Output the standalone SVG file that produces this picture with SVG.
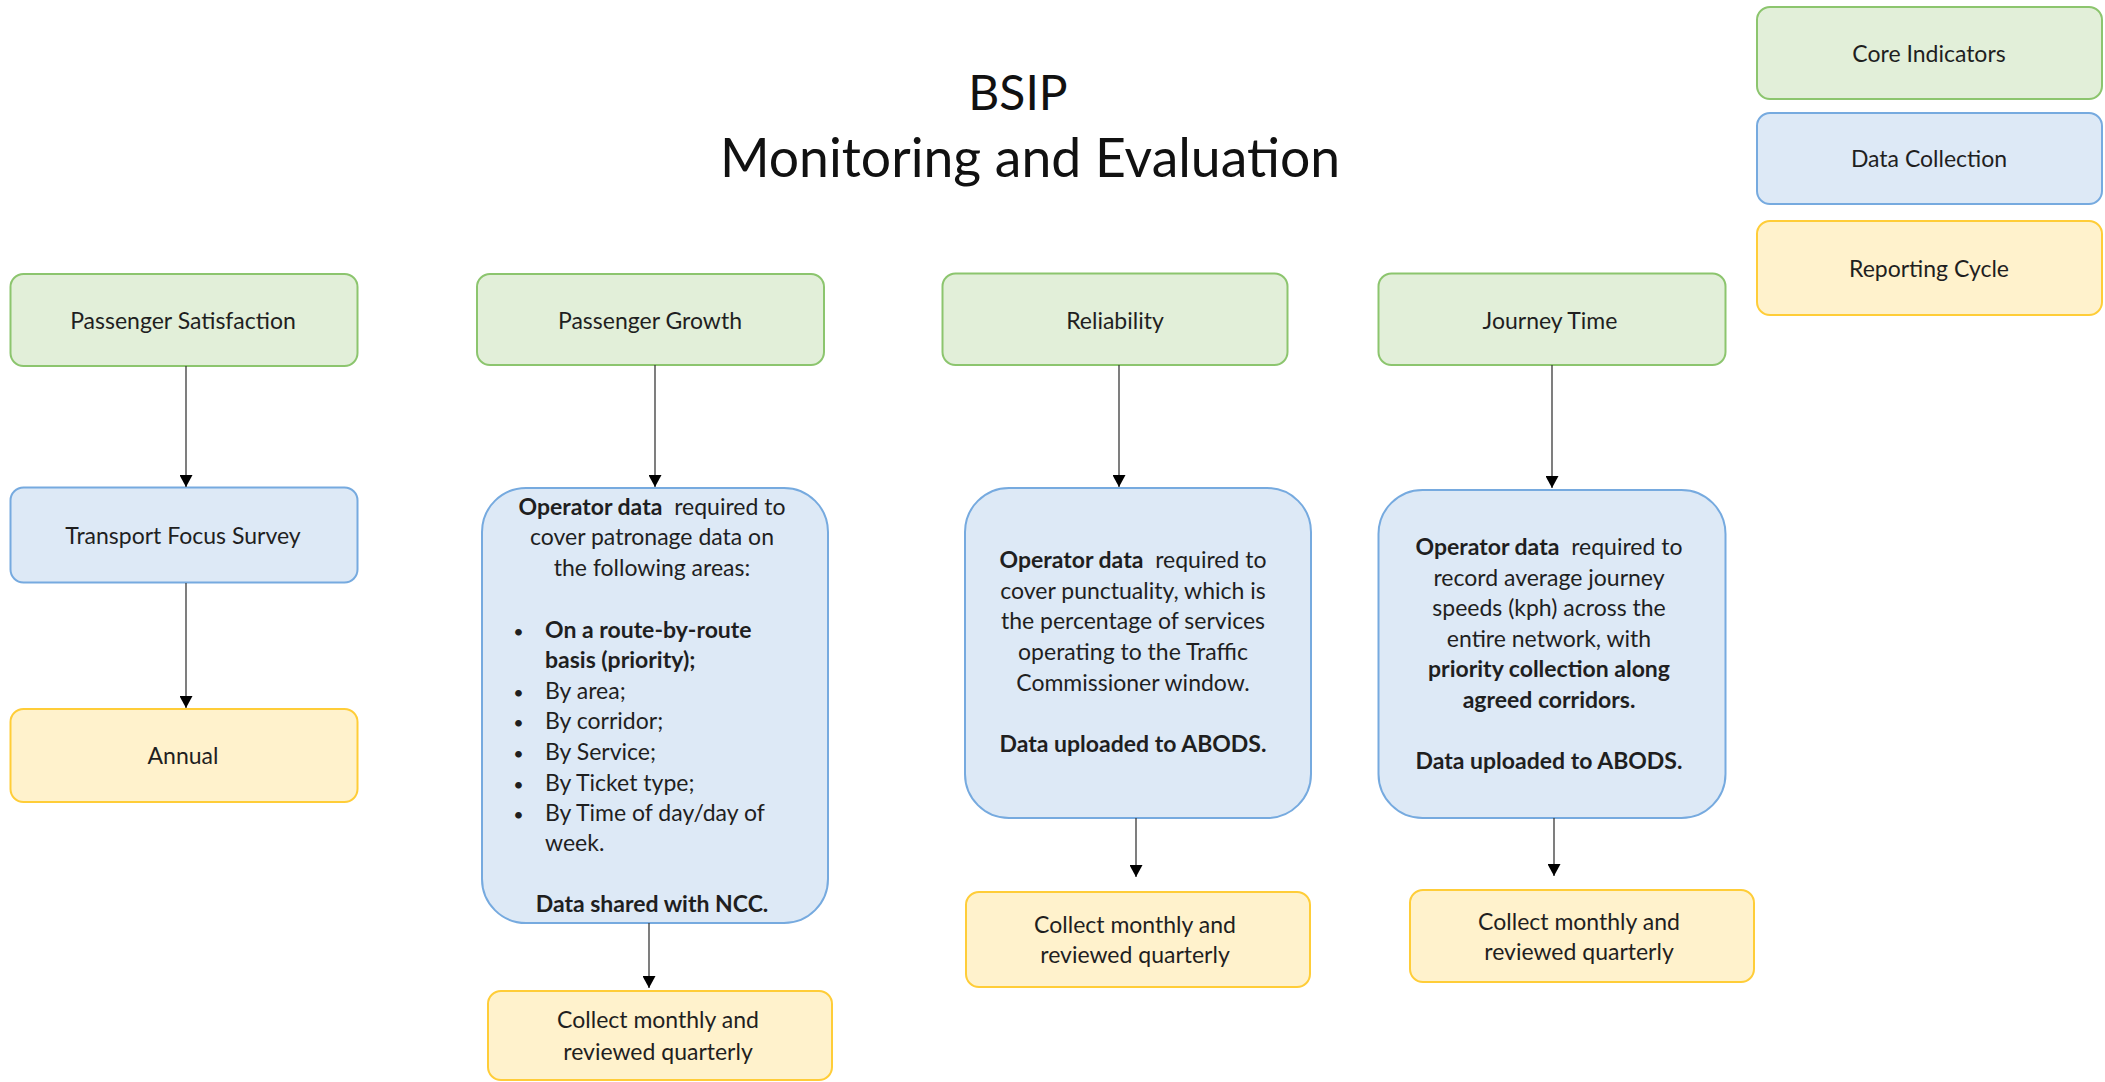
<svg xmlns="http://www.w3.org/2000/svg" width="2105" height="1082" viewBox="0 0 2105 1082">
<style>
text { font-family: Lato, "Liberation Sans", sans-serif; font-size: 23px; fill: #1f1f1f; }
.c { text-anchor: middle; }
.b { font-weight: bold; }
.dot { font-size: 18px; text-anchor: middle; }
.title { font-size: 48px; fill: #111; }
.title2 { font-size: 53.5px; fill: #111; }
.g { fill: #e2efd9; stroke: #8cc56e; stroke-width: 2; }
.bl { fill: #dde9f6; stroke: #76aadf; stroke-width: 2; }
.y { fill: #fff2cc; stroke: #ffcd38; stroke-width: 2; }
.conn line { stroke: #3a3a3a; stroke-width: 1.3; fill: none; marker-end: url(#ah); }
</style>
<defs>
<marker id="ah" markerUnits="userSpaceOnUse" markerWidth="13" markerHeight="13" refX="12" refY="6.5" orient="auto">
<path d="M0,0 L12,6.5 L0,13 z" fill="#000"/>
</marker>
</defs>
<rect width="2105" height="1082" fill="#fff"/>

<g id="title">
<text class="c title" x="1018" y="110">BSIP</text>
<text class="c title2" x="1030" y="177">Monitoring and Evaluation</text>
</g>

<g id="legend-core"><rect class="g" x="1757" y="7" width="345" height="92" rx="13"/><text class="c" x="1929" y="61.5">Core Indicators</text></g>
<g id="legend-data"><rect class="bl" x="1757" y="113" width="345" height="91" rx="13"/><text class="c" x="1929" y="167">Data Collection</text></g>
<g id="legend-report"><rect class="y" x="1757" y="221" width="345" height="94" rx="13"/><text class="c" x="1929" y="276.5">Reporting Cycle</text></g>

<g id="passenger-satisfaction"><rect class="g" x="10.5" y="274" width="347" height="92" rx="13"/><text class="c" x="183" y="328.5">Passenger Satisfaction</text></g>
<g id="transport-focus-survey"><rect class="bl" x="10.5" y="487.5" width="347" height="95" rx="13"/><text class="c" x="183" y="543.5">Transport Focus Survey</text></g>
<g id="annual"><rect class="y" x="10.5" y="709" width="347" height="93" rx="13"/><text class="c" x="183" y="764">Annual</text></g>

<g id="passenger-growth"><rect class="g" x="477" y="274" width="347" height="91" rx="13"/><text class="c" x="650" y="328.5">Passenger Growth</text></g>
<g id="pg-data">
<rect class="bl" x="482" y="488" width="346" height="435" rx="44"/>
<text class="c" x="652" y="514.5" xml:space="preserve"><tspan class="b">Operator data</tspan>  required to</text>
<text class="c" x="652" y="545.1">cover patronage data on</text>
<text class="c" x="652" y="575.6">the following areas:</text>
<text class="dot" x="518.5" y="637.5">•</text><text class="b" x="545" y="637.5">On a route-by-route</text>
<text class="b" x="545" y="668.3">basis (priority);</text>
<text class="dot" x="518.5" y="699">•</text><text x="545" y="699">By area;</text>
<text class="dot" x="518.5" y="729.4">•</text><text x="545" y="729.4">By corridor;</text>
<text class="dot" x="518.5" y="760">•</text><text x="545" y="760">By Service;</text>
<text class="dot" x="518.5" y="790.5">•</text><text x="545" y="790.5">By Ticket type;</text>
<text class="dot" x="518.5" y="821.1">•</text><text x="545" y="821.1">By Time of day/day of</text>
<text x="545" y="851.2">week.</text>
<text class="c b" x="652" y="911.8">Data shared with NCC.</text>
</g>
<g id="pg-cycle"><rect class="y" x="488" y="991" width="344" height="89" rx="13"/>
<text class="c" x="658" y="1028">Collect monthly and</text><text class="c" x="658" y="1059.5">reviewed quarterly</text></g>

<g id="reliability"><rect class="g" x="942.5" y="273.5" width="345" height="91.5" rx="13"/><text class="c" x="1115" y="328.5">Reliability</text></g>
<g id="rel-data">
<rect class="bl" x="965" y="488" width="346" height="330" rx="44"/>
<text class="c" x="1133" y="568" xml:space="preserve"><tspan class="b">Operator data</tspan>  required to</text>
<text class="c" x="1133" y="598.7">cover punctuality, which is</text>
<text class="c" x="1133" y="629.3">the percentage of services</text>
<text class="c" x="1133" y="660">operating to the Traffic</text>
<text class="c" x="1133" y="690.7">Commissioner window.</text>
<text class="c b" x="1133" y="752">Data uploaded to ABODS.</text>
</g>
<g id="rel-cycle"><rect class="y" x="966" y="892" width="344" height="95" rx="13"/>
<text class="c" x="1135" y="932.5">Collect monthly and</text><text class="c" x="1135" y="963">reviewed quarterly</text></g>

<g id="journey-time"><rect class="g" x="1378.5" y="273.5" width="347" height="91.5" rx="13"/><text class="c" x="1550" y="328.5">Journey Time</text></g>
<g id="jt-data">
<rect class="bl" x="1378.5" y="490" width="347" height="328" rx="44"/>
<text class="c" x="1549" y="555" xml:space="preserve"><tspan class="b">Operator data</tspan>  required to</text>
<text class="c" x="1549" y="585.5">record average journey</text>
<text class="c" x="1549" y="616.1">speeds (kph) across the</text>
<text class="c" x="1549" y="646.6">entire network, with</text>
<text class="c b" x="1549" y="677.2">priority collection along</text>
<text class="c b" x="1549" y="707.7">agreed corridors.</text>
<text class="c b" x="1549" y="768.8">Data uploaded to ABODS.</text>
</g>
<g id="jt-cycle"><rect class="y" x="1410" y="890" width="344" height="92" rx="13"/>
<text class="c" x="1579" y="930">Collect monthly and</text><text class="c" x="1579" y="960">reviewed quarterly</text></g>

<g id="connectors" class="conn">
<line x1="186" y1="366" x2="186" y2="487"/>
<line x1="186" y1="583" x2="186" y2="708"/>
<line x1="655" y1="365" x2="655" y2="487"/>
<line x1="649" y1="923" x2="649" y2="988"/>
<line x1="1119" y1="365" x2="1119" y2="487"/>
<line x1="1136" y1="818" x2="1136" y2="877"/>
<line x1="1552" y1="365" x2="1552" y2="488"/>
<line x1="1554" y1="818" x2="1554" y2="876"/>
</g>
</svg>
